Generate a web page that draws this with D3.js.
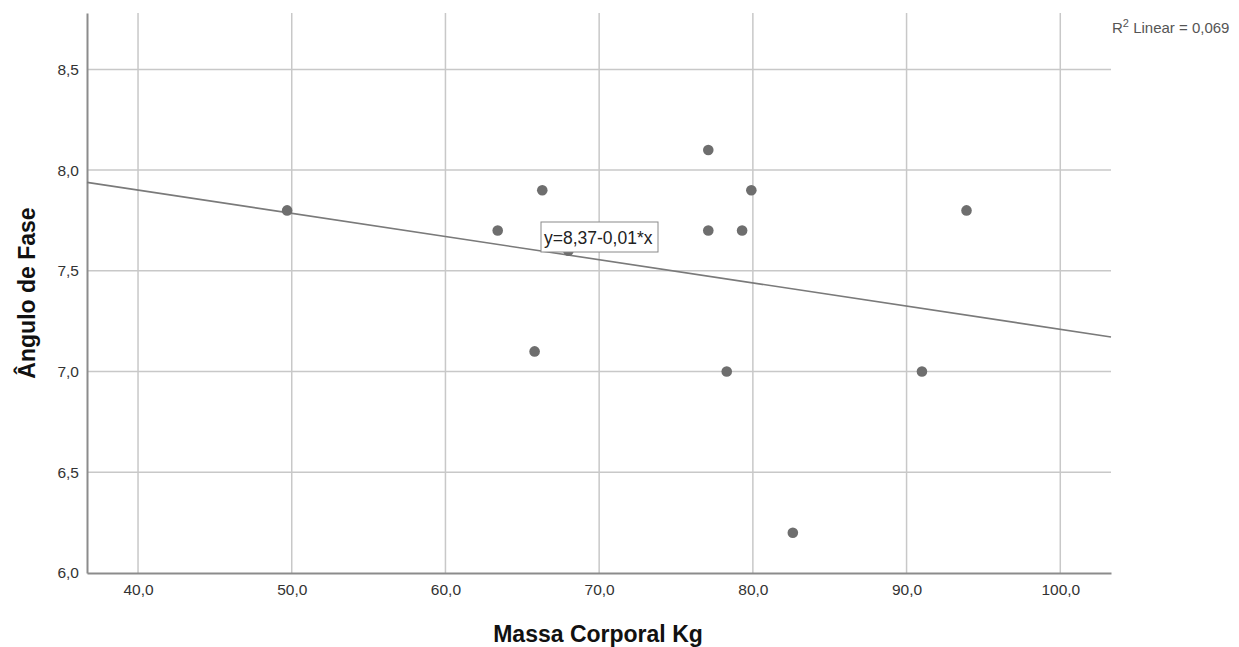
<!DOCTYPE html>
<html><head><meta charset="utf-8">
<script src="https://cdn.jsdelivr.net/npm/d3@7"></script>
<style>body{margin:0;background:#fff}svg{display:block}</style>
</head><body>
<svg id="c" width="1239" height="647"></svg>
<script>
const massa = [49.7, 63.4, 65.8, 66.3, 68.0, 77.1, 77.1, 78.3, 79.3, 79.9, 82.6, 91.0, 93.9];
const angulo = [7.8, 7.7, 7.1, 7.9, 7.6, 8.1, 7.7, 7.0, 7.7, 7.9, 6.2, 7.0, 7.8];
const xTicks = [40, 50, 60, 70, 80, 90, 100];
const yTicks = [6.0, 6.5, 7.0, 7.5, 8.0, 8.5];
const eqLabel = "y=8,37-0,01*x";
const r2Label = "0,069";

const svg = d3.select("#c");
const FONT = "Liberation Sans, Arial, sans-serif";
const L = 87, R = 1111, T = 13, B = 573;
const x = d3.scaleLinear().domain([36.68, 103.3]).range([L, R]);
const y = d3.scaleLinear().domain([6.0, 8.78]).range([B, T]);
const fmt = v => v.toFixed(1).replace(".", ",");

// grid
svg.append("g").selectAll("line").data(xTicks).join("line")
  .attr("x1", d => x(d)).attr("x2", d => x(d)).attr("y1", T).attr("y2", B)
  .attr("stroke", "#c8c8c8").attr("stroke-width", 1.5);
svg.append("g").selectAll("line").data(yTicks.filter(d => d > 6)).join("line")
  .attr("x1", L).attr("x2", R).attr("y1", d => y(d)).attr("y2", d => y(d))
  .attr("stroke", "#c8c8c8").attr("stroke-width", 1.5);

// axes
const xa = svg.append("g").attr("transform", `translate(0,${B})`)
  .call(d3.axisBottom(x).tickValues(xTicks).tickFormat(fmt).tickSize(0).tickPadding(11));
const ya = svg.append("g").attr("transform", `translate(${L},0)`)
  .call(d3.axisLeft(y).tickValues(yTicks).tickFormat(fmt).tickSize(0).tickPadding(8));
[xa, ya].forEach(a => {
  a.select(".domain").attr("stroke", "#8c8c8c").attr("stroke-width", 2);
  a.selectAll("text").attr("font-family", FONT)
    .attr("font-size", 15.5).attr("fill", "#333");
});

// regression line computed from data
const mx = d3.mean(massa), my = d3.mean(angulo);
let sxy = 0, sxx = 0;
massa.forEach((v, i) => { sxy += (v - mx) * (angulo[i] - my); sxx += (v - mx) ** 2; });
const b = sxy / sxx, a0 = my - b * mx;
const xd = x.domain();
svg.append("line")
  .attr("x1", x(xd[0])).attr("y1", y(a0 + b * xd[0]))
  .attr("x2", x(xd[1])).attr("y2", y(a0 + b * xd[1]))
  .attr("stroke", "#7a7a7a").attr("stroke-width", 1.6);

// points
svg.append("g").selectAll("circle").data(massa).join("circle")
  .attr("cx", d => x(d)).attr("cy", (d, i) => y(angulo[i])).attr("r", 5.3)
  .attr("fill", "#6e6e6e");

// equation label
const eg = svg.append("g");
eg.append("rect").attr("x", 541).attr("y", 222).attr("width", 117).attr("height", 30)
  .attr("fill", "#fff").attr("stroke", "#8a8a8a").attr("stroke-width", 1);
eg.append("text").attr("x", 544).attr("y", 243.5).text(eqLabel)
  .attr("font-family", FONT).attr("font-size", 17.5).attr("fill", "#222");

// R2 label
const rt = svg.append("text").attr("x", 1112).attr("y", 33)
  .attr("font-family", FONT).attr("font-size", 15).attr("fill", "#555");
rt.append("tspan").text("R");
rt.append("tspan").attr("dy", -6).attr("font-size", 11).text("2");
rt.append("tspan").attr("dy", 6).text(" Linear = " + r2Label);

// axis titles
svg.append("text").attr("x", 598).attr("y", 642).attr("text-anchor", "middle")
  .attr("font-family", FONT).attr("font-weight", "bold")
  .attr("font-size", 23).attr("fill", "#111").text("Massa Corporal Kg");
svg.append("text").attr("transform", "translate(35,293) rotate(-90)").attr("text-anchor", "middle")
  .attr("font-family", FONT).attr("font-weight", "bold")
  .attr("font-size", 23).attr("fill", "#111").text("Ângulo de Fase");
</script>
</body></html>
